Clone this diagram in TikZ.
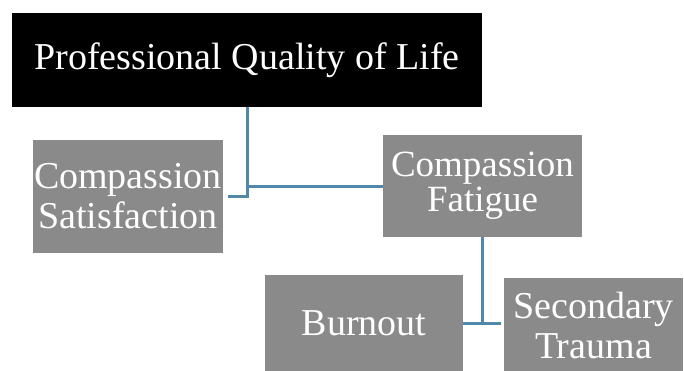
\documentclass[tikz,border=0pt]{standalone}
\usepackage{fontspec}
\setmainfont{Liberation Serif}
\usepackage{xcolor}
\definecolor{boxgray}{RGB}{138,138,138}
\definecolor{linkblue}{RGB}{80,136,170}

\begin{document}
\begin{tikzpicture}[node distance=130pt, every node/.style={rectangle, fill=boxgray, text=white, inner sep=0pt, align=center, font=\fontsize{38}{40}\selectfont}]
        \useasboundingbox (-247pt,60pt) rectangle (437pt,-310pt);
        \node (life) [fill=black, minimum width=470pt, minimum height=94pt] {Professional Quality of Life};
        \node (satisf) [below of=life, xshift=-119pt, yshift=-6.5pt, minimum width=190pt, minimum height=113pt] {Compassion\\Satisfaction};
        \node (fatigue) [below of=life, xshift=235.5pt, yshift=4pt, minimum width=199pt, minimum height=102pt, font=\fontsize{37}{35}\selectfont] {Compassion\\Fatigue};
        
        \node (burnout) [below of=fatigue, xshift=-118.5pt, yshift=-7.5pt, minimum width=198pt, minimum height=97pt] {Burnout};
        \node (trauma) [below of=fatigue, xshift=111pt, yshift=-9pt, minimum width=179pt, minimum height=94pt] {Secondary\\Trauma};
        
        \draw [linkblue, line width=3pt] (life) |- (fatigue);
        \draw [linkblue, line width=3pt, shorten >=5pt] (life) |- (satisf);
        
        \draw [linkblue, line width=3pt] (fatigue) |- (burnout);
        \draw [linkblue, line width=3pt, shorten >=3pt] (burnout.east) -- (trauma.west |- burnout.east);
    \end{tikzpicture}
\end{document}
